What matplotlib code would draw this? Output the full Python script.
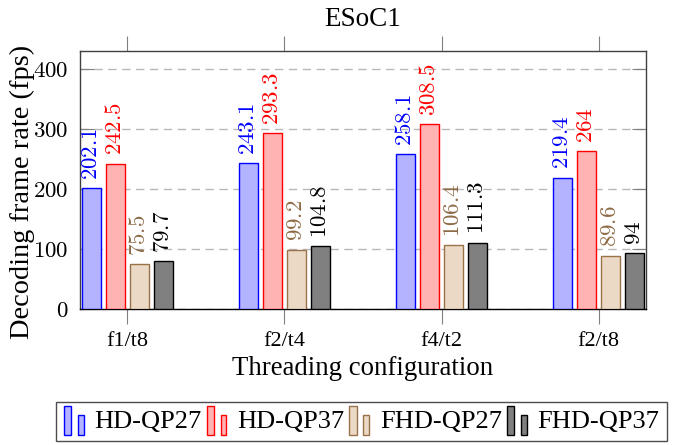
import numpy as np
import matplotlib
matplotlib.use('Agg')
import matplotlib.pyplot as plt
from matplotlib.legend_handler import HandlerBase
from matplotlib.patches import Rectangle

plt.rcParams['font.family'] = ['Liberation Serif', 'DejaVu Serif']
plt.rcParams['mathtext.fontset'] = 'cm'

# data
configs = ['f1/t8', 'f2/t4', 'f4/t2', 'f2/t8']
series = ['HD-QP27', 'HD-QP37', 'FHD-QP27', 'FHD-QP37']
hd_qp27 = [202.1, 243.1, 258.1, 219.4]
hd_qp37 = [242.5, 293.3, 308.5, 264]
fhd_qp27 = [75.5, 99.2, 106.4, 89.6]
fhd_qp37 = [79.7, 104.8, 111.3, 94]
values = [hd_qp27, hd_qp37, fhd_qp27, fhd_qp37]
yticks = [0, 100, 200, 300, 400]

fills = ['#b3b3ff', '#ffb3b3', '#ebd9c6', '#808080']
edges = ['#0000ff', '#ff0000', '#9a7248', '#000000']
label_colors = ['#0000ff', '#ff0000', '#8c6a45', '#000000']


class TwoBarHandler(HandlerBase):
    # pgfplots style ybar legend image: two small bars
    def create_artists(self, legend, orig_handle, xdescent, ydescent,
                       width, height, fontsize, trans):
        fc = orig_handle.get_facecolor()
        ec = orig_handle.get_edgecolor()
        r1 = Rectangle((-xdescent, -ydescent - 0.35 * height), 0.32 * width, 1.55 * height,
                       facecolor=fc, edgecolor=ec, lw=1, transform=trans)
        r2 = Rectangle((-xdescent + 0.62 * width, -ydescent - 0.35 * height), 0.26 * width, 1.1 * height,
                       facecolor=fc, edgecolor=ec, lw=1, transform=trans)
        return [r1, r2]


fig = plt.figure(figsize=(6.86, 4.45), dpi=100)
ax = fig.add_axes([80 / 686, 1 - 309.3 / 445, (646 - 80) / 686, (309.3 - 51) / 445])

x = np.arange(len(configs))
step = 0.153
width = 0.121
handles = []
for i, (vals, name) in enumerate(zip(values, series)):
    pos = x + (i - 1.5) * step
    bars = ax.bar(pos, vals, width, color=fills[i], edgecolor=edges[i], lw=1, label=name, zorder=3)
    handles.append(bars[0])
    for p, v in zip(pos, vals):
        txt = ('%g' % v)
        ax.annotate('$' + txt + '$', (p, v), xytext=(0, 6), textcoords='offset points',
                    rotation=90, ha='center', va='bottom', fontsize=16.5,
                    color=label_colors[i], zorder=5, annotation_clip=False)

ax.set_xlim(-0.3025, 3.3025)
ax.set_ylim(0, 430.5)
ax.set_xticks(x)
ax.set_xticklabels(configs)
ax.set_yticks(yticks)
ax.set_yticklabels(['$%d$' % t for t in yticks])

ax.tick_params(axis='x', direction='out', length=11, color='#808080', top=True,
               labelsize=16, pad=5)
ax.tick_params(axis='y', direction='in', length=10, color='#808080', right=True,
               labelsize=16.5, pad=8)
ax.yaxis.grid(True, linestyle=(0, (6, 4)), color='#b8b8b8', lw=1, zorder=0)
for s in ax.spines.values():
    s.set_color('#404040')
    s.set_linewidth(1)
    s.set_zorder(2)
ax.spines['bottom'].set_color('#000000')

ax.set_title('ESoC1', fontsize=19.5, pad=18)
ax.set_xlabel('Threading configuration', fontsize=19.3, labelpad=4)
ax.set_ylabel('Decoding frame rate (fps)', fontsize=20.4)
ax.yaxis.set_label_coords(-0.08, 0.454)

fig.legend(handles, series, loc='upper center', bbox_to_anchor=(0.527, 1 - 402 / 445),
           ncol=4, fontsize=19, frameon=True, fancybox=False, edgecolor='#202020',
           borderaxespad=0, handler_map={Rectangle: TwoBarHandler()},
           handlelength=0.85, handletextpad=0.3, columnspacing=0.2,
           borderpad=0.3)

fig.savefig('out.png', dpi=100)
